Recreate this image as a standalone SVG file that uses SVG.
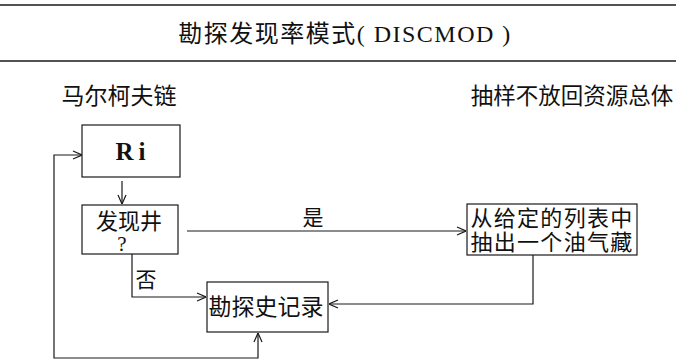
<svg xmlns="http://www.w3.org/2000/svg" width="676" height="361" viewBox="0 0 676 361">
<style>
.bg{fill:#ffffff}
.rule{stroke:#1a1a1a;stroke-width:1.3;fill:none}
.box{fill:none;stroke:#1a1a1a;stroke-width:1.2}
.ln{fill:none;stroke:#1a1a1a;stroke-width:1.2}
.cjk{font-family:"Noto Sans CJK SC","Noto Sans CJK JP",sans-serif;fill:#111;text-anchor:middle}
.lat{font-family:"Liberation Serif","DejaVu Serif",serif;fill:#111;text-anchor:middle}
</style>
<defs>
<marker id="arr" viewBox="0 0 10 10" refX="10" refY="5" markerWidth="10" markerHeight="10" markerUnits="userSpaceOnUse" orient="auto-start-reverse">
<path d="M1,1 L10,5 L1,9" fill="none" stroke="#1a1a1a" stroke-width="1.2"/>
</marker>
</defs>
<rect class="bg" x="0" y="0" width="676" height="361"/>
<g id="header">
<line class="rule" x1="0" y1="5" x2="676" y2="5"/>
<text class="cjk" x="345" y="42" font-size="24" letter-spacing="1.5"><tspan>勘探发现率模式</tspan><tspan font-family="Liberation Serif,serif" font-size="24" letter-spacing="1.5">( DISCMOD )</tspan></text>
<line class="rule" x1="0" y1="61" x2="676" y2="61"/>
<text class="cjk" x="119" y="104" font-size="23">马尔柯夫链</text>
<text class="cjk" x="572" y="104" font-size="22.5">抽样不放回资源总体</text>
</g>
<g id="node-ri">
<rect class="box" x="82" y="125" width="98" height="52"/>
<text class="lat" x="133" y="160" font-size="25" font-weight="bold" letter-spacing="5">Ri</text>
</g>
<g id="node-find">
<rect class="box" x="82" y="205" width="96" height="49"/>
<text class="cjk" font-size="22"><tspan x="129" y="229">发现井</tspan><tspan x="122" y="251" font-family="Liberation Serif,serif" font-size="21">?</tspan></text>
</g>
<g id="node-draw">
<rect class="box" x="467" y="204" width="170" height="51"/>
<text class="cjk" font-size="22" letter-spacing="1.3"><tspan x="552" y="226">从给定的列表中</tspan><tspan x="552" y="250">抽出一个油气藏</tspan></text>
</g>
<g id="node-record">
<rect class="box" x="207" y="282" width="121" height="50"/>
<text class="cjk" x="266" y="315" font-size="23">勘探史记录</text>
</g>
<g id="connectors">
<path class="ln" d="M122,181 V204" marker-end="url(#arr)"/>
<path class="ln" d="M187,231 H466" marker-end="url(#arr)"/>
<text class="cjk" x="313" y="225" font-size="21">是</text>
<path class="ln" d="M132,254 V297 H206" marker-end="url(#arr)"/>
<text class="cjk" x="146" y="287" font-size="21">否</text>
<path class="ln" d="M533,255 V304 H329" marker-end="url(#arr)"/>
<path class="ln" d="M82,155 H54 V358 H258 V333" marker-start="url(#arr)" marker-end="url(#arr)"/>
</g>
</svg>
